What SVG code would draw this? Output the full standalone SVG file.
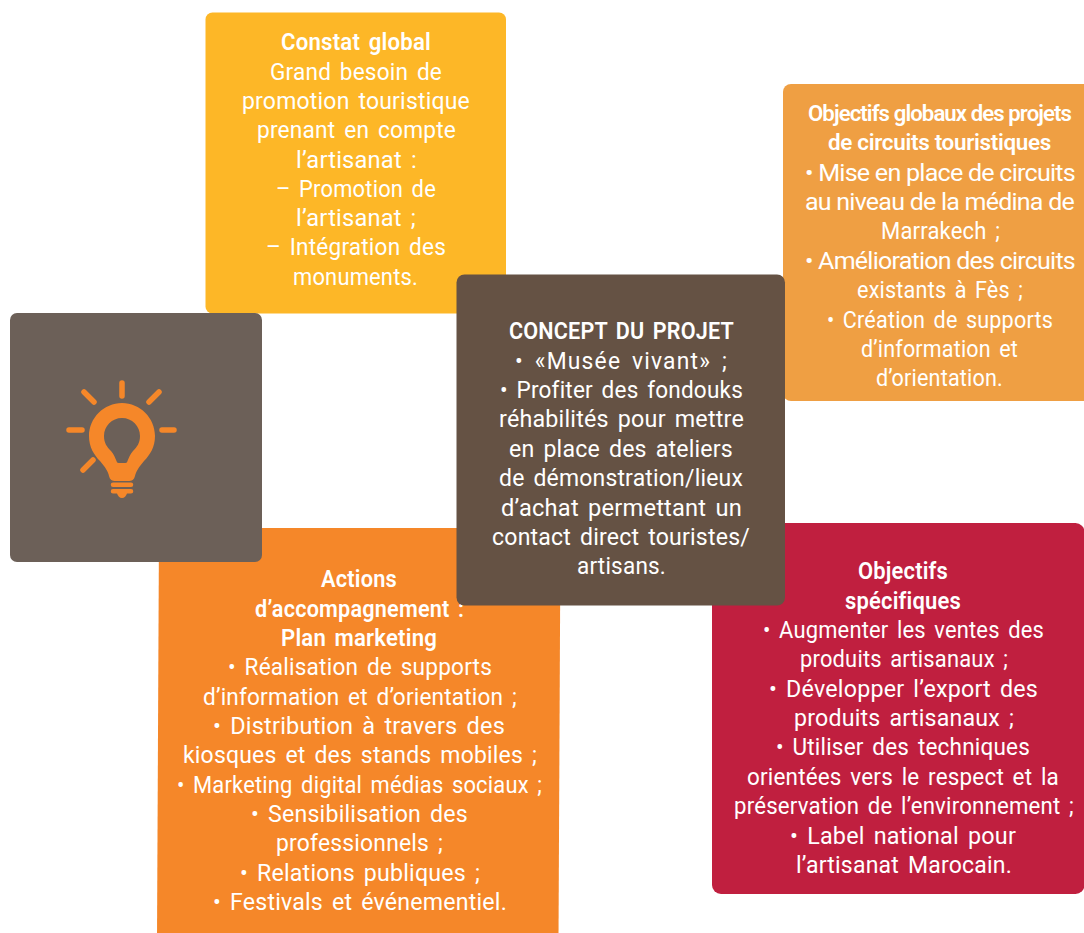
<svg xmlns="http://www.w3.org/2000/svg" width="1084" height="933" viewBox="0 0 1084 933">
<style>
text{font-family:Roboto,"Liberation Sans",sans-serif;font-size:23px;fill:#fff;letter-spacing:.2px;word-spacing:3px;font-weight:400}
.b{font-weight:600}
.s{font-size:22px;letter-spacing:-.3px;word-spacing:0}
.t{letter-spacing:-.9px}
.n{letter-spacing:-.7px;word-spacing:0}
.w{letter-spacing:1.200px;word-spacing:4px}
.ray{stroke:#f58729;stroke-width:5.500;stroke-linecap:round;fill:none}
</style>
<rect width="1084" height="933" fill="#fff"/>
<g id="node-constat">
<rect x="205.500" y="12.500" width="300.500" height="301" rx="7" fill="#fdb727"/>
<text class="b" x="281" y="50" textLength="150" lengthAdjust="spacingAndGlyphs">Constat global</text>
<text x="270" y="80" textLength="172" lengthAdjust="spacingAndGlyphs">Grand besoin de</text>
<text x="242" y="109" textLength="228" lengthAdjust="spacingAndGlyphs">promotion touristique</text>
<text x="257" y="138" textLength="199" lengthAdjust="spacingAndGlyphs">prenant en compte</text>
<text x="296" y="168" textLength="121" lengthAdjust="spacingAndGlyphs">l’artisanat :</text>
<text x="276" y="197" textLength="160" lengthAdjust="spacingAndGlyphs">– Promotion de</text>
<text x="296" y="226" textLength="120" lengthAdjust="spacingAndGlyphs">l’artisanat ;</text>
<text x="266" y="255" textLength="180" lengthAdjust="spacingAndGlyphs">– Intégration des</text>
<text x="293" y="285" textLength="125" lengthAdjust="spacingAndGlyphs">monuments.</text>
</g>
<g id="node-objectifs-globaux">
<rect x="783" y="84" width="320" height="317" rx="8" fill="#ef9f43"/>
<text class="b s t" x="808" y="121" textLength="263" lengthAdjust="spacingAndGlyphs">Objectifs globaux des projets</text>
<text class="b s" x="828" y="150" textLength="223" lengthAdjust="spacingAndGlyphs">de circuits touristiques</text>
<text class="n" x="805" y="181" textLength="270" lengthAdjust="spacingAndGlyphs">• Mise en place de circuits</text>
<text class="n" x="805" y="210" textLength="269" lengthAdjust="spacingAndGlyphs">au niveau de la médina de</text>
<text x="881" y="239" textLength="119" lengthAdjust="spacingAndGlyphs">Marrakech ;</text>
<text class="n" x="805" y="269" textLength="270" lengthAdjust="spacingAndGlyphs">• Amélioration des circuits</text>
<text x="857" y="298" textLength="166" lengthAdjust="spacingAndGlyphs">existants à Fès ;</text>
<text x="827" y="328" textLength="226" lengthAdjust="spacingAndGlyphs">• Création de supports</text>
<text x="861" y="357" textLength="157" lengthAdjust="spacingAndGlyphs">d’information et</text>
<text x="876" y="386" textLength="127" lengthAdjust="spacingAndGlyphs">d’orientation.</text>
</g>
<g id="node-actions">
<polygon points="159,528 560.500,528 558.500,940 157,940" fill="#f58729"/>
<text class="b" x="321" y="587" textLength="76" lengthAdjust="spacingAndGlyphs">Actions</text>
<text class="b" x="255" y="617" textLength="209" lengthAdjust="spacingAndGlyphs">d’accompagnement :</text>
<text class="b" x="281" y="646" textLength="156" lengthAdjust="spacingAndGlyphs">Plan marketing</text>
<text x="228" y="675" textLength="264" lengthAdjust="spacingAndGlyphs">• Réalisation de supports</text>
<text x="203" y="705" textLength="314" lengthAdjust="spacingAndGlyphs">d’information et d’orientation ;</text>
<text x="213" y="734" textLength="292" lengthAdjust="spacingAndGlyphs">• Distribution à travers des</text>
<text x="183" y="763" textLength="354" lengthAdjust="spacingAndGlyphs">kiosques et des stands mobiles ;</text>
<text x="177" y="793" textLength="365" lengthAdjust="spacingAndGlyphs">• Marketing digital médias sociaux ;</text>
<text x="251" y="822" textLength="217" lengthAdjust="spacingAndGlyphs">• Sensibilisation des</text>
<text x="276" y="851" textLength="167" lengthAdjust="spacingAndGlyphs">professionnels ;</text>
<text x="240" y="881" textLength="240" lengthAdjust="spacingAndGlyphs">• Relations publiques ;</text>
<text x="213" y="910" textLength="294" lengthAdjust="spacingAndGlyphs">• Festivals et événementiel.</text>
</g>
<g id="node-objectifs-specifiques">
<rect x="712" y="523" width="372.500" height="371" rx="9" fill="#c01f3f"/>
<text class="b" x="858" y="579" textLength="90" lengthAdjust="spacingAndGlyphs">Objectifs</text>
<text class="b" x="845" y="609" textLength="116" lengthAdjust="spacingAndGlyphs">spécifiques</text>
<text x="763" y="638" textLength="281" lengthAdjust="spacingAndGlyphs">• Augmenter les ventes des</text>
<text x="800" y="667" textLength="208" lengthAdjust="spacingAndGlyphs">produits artisanaux ;</text>
<text x="769" y="697" textLength="269" lengthAdjust="spacingAndGlyphs">• Développer l’export des</text>
<text x="794" y="726" textLength="220" lengthAdjust="spacingAndGlyphs">produits artisanaux ;</text>
<text x="776" y="755" textLength="254" lengthAdjust="spacingAndGlyphs">• Utiliser des techniques</text>
<text x="747" y="785" textLength="312" lengthAdjust="spacingAndGlyphs">orientées vers le respect et la</text>
<text x="734" y="814" textLength="340" lengthAdjust="spacingAndGlyphs">préservation de l’environnement ;</text>
<text x="790" y="844" textLength="226" lengthAdjust="spacingAndGlyphs">• Label national pour</text>
<text x="796" y="873" textLength="216" lengthAdjust="spacingAndGlyphs">l’artisanat Marocain.</text>
</g>
<g id="node-concept">
<rect x="456.500" y="274.500" width="328.500" height="331" rx="8" fill="#655244"/>
<text class="b" x="509" y="339" textLength="225" lengthAdjust="spacingAndGlyphs">CONCEPT DU PROJET</text>
<text class="w" x="515" y="369" textLength="213" lengthAdjust="spacingAndGlyphs">• «Musée vivant» ;</text>
<text x="500" y="398" textLength="243" lengthAdjust="spacingAndGlyphs">• Profiter des fondouks</text>
<text x="499" y="427" textLength="245" lengthAdjust="spacingAndGlyphs">réhabilités pour mettre</text>
<text x="509" y="457" textLength="224" lengthAdjust="spacingAndGlyphs">en place des ateliers</text>
<text x="499" y="486" textLength="244" lengthAdjust="spacingAndGlyphs">de démonstration/lieux</text>
<text x="501" y="516" textLength="241" lengthAdjust="spacingAndGlyphs">d’achat permettant un</text>
<text x="492" y="545" textLength="258" lengthAdjust="spacingAndGlyphs">contact direct touristes/</text>
<text x="577" y="574" textLength="89" lengthAdjust="spacingAndGlyphs">artisans.</text>
</g>
<g id="node-idea">
<rect x="10" y="313" width="252" height="249" rx="7" fill="#6c6058"/>
<path class="ray" d="M122 383V396M84 392L94 402M159 392L149 402M69 430H82M162 430H174M83 470L93 460"/>
<path fill="#f58729" fill-rule="evenodd" d="M122 403C104 403 89 418 89 436C89 447 94 455 100 461C105 467 108 471 109 476C110 480 112 481 116 481H128C132 481 134 480 135 476C136 471 139 467 144 461C150 455 155 447 155 436C155 418 140 403 122 403ZM122 418C132 418 140 426 140 436C140 443 137 447 133 451C130 454 129 458 127.500 461C127 463 126 463 124 463H120C118 463 117 463 116.500 461C115 458 114 454 111 451C107 447 104 443 104 436C104 426 112 418 122 418Z"/>
<path fill="#f58729" d="M113 482.500H131A2.200 2.200 0 0 1 131 487H113A2.200 2.200 0 0 1 113 482.500ZM113 489H131A2.200 2.200 0 0 1 131 493.500H127C126 496 124.500 498 122 498C119.500 498 118 496 117 493.500H113A2.200 2.200 0 0 1 113 489Z"/>
</g>
<g id="connectors"/>
</svg>
